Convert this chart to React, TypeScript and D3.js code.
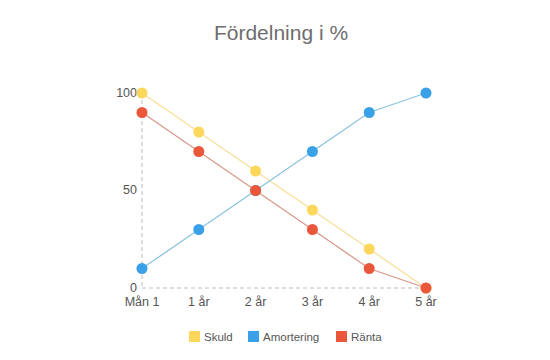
import React from "react";
import * as d3 from "d3";

const categories = ["Mån 1", "1 år", "2 år", "3 år", "4 år", "5 år"];
const skuld = [100, 80, 60, 40, 20, 0];
const amortering = [10, 30, 50, 70, 90, 100];
const ranta = [90, 70, 50, 30, 10, 0];
const yTicks = [0, 50, 100];

const series = [
  { name: "Skuld", values: skuld, line: "#f8df98", marker: "#fcd75b" },
  { name: "Amortering", values: amortering, line: "#8cc3e0", marker: "#3aa0e8" },
  { name: "Ränta", values: ranta, line: "#d9998a", marker: "#ea573b" },
];

export default function App() {
  const W = 550, H = 360;
  const x = d3.scalePoint<string>().domain(categories).range([142, 426]);
  const y = d3.scaleLinear().domain([0, 100]).range([288, 93]);
  const line = d3.line<number>().x((_, i) => x(categories[i])!).y((d) => y(d));
  const font = "Helvetica, Arial, 'Liberation Sans', sans-serif";
  const legendX = [189, 248, 336];
  return (
    <svg width={W} height={H} style={{ position: "absolute", left: 0, top: 0 }} fontFamily={font}>
      <text x={281} y={40} textAnchor="middle" fontSize={21} fill="#6e6e6e">Fördelning i %</text>
      <line x1={142} x2={142} y1={93} y2={288} stroke="#bbb" strokeDasharray="4,3" />
      <line x1={142} x2={426} y1={288} y2={288} stroke="#bbb" strokeDasharray="4,3" />
      {yTicks.map((t) => (
        <text key={t} x={137} y={y(t) + 3.5} textAnchor="end" fontSize={12.5} fill="#555">{t}</text>
      ))}
      {categories.map((c) => (
        <text key={c} x={x(c)!} y={306} textAnchor="middle" fontSize={12.5} fill="#555">{c}</text>
      ))}
      {series.map((s) => (
        <path key={s.name} d={line(s.values)!} fill="none" stroke={s.line} strokeWidth={1.3} />
      ))}
      {series.map((s) =>
        s.values.map((v, i) => (
          <circle key={s.name + i} cx={x(categories[i])!} cy={y(v)} r={5.5} fill={s.marker} />
        ))
      )}
      {series.map((s, i) => (
        <g key={s.name} transform={`translate(${legendX[i]},331)`}>
          <rect x={0} y={0} width={11} height={11} fill={s.marker} />
          <text x={15} y={10} fontSize={11.5} fill="#555">{s.name}</text>
        </g>
      ))}
    </svg>
  );
}
